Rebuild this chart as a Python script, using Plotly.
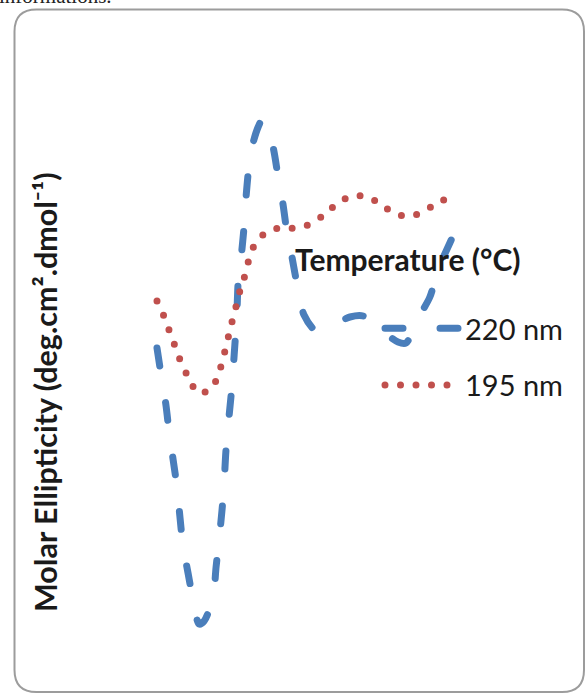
import plotly.graph_objects as go

# ---- data ----
temp_220 = [20.0, 20.9, 22.1, 22.8, 23.8, 24.7, 25.4, 26.1, 27.3, 28.5, 29.9, 31.1,
            33.2, 33.9, 34.6, 35.3, 35.8, 36.2, 36.7, 37.4, 37.9, 38.4, 38.8, 39.1,
            39.8, 40.5, 40.9, 41.6, 42.6, 43.8, 44.7, 45.4, 47.3, 48.5, 49.6, 50.6,
            51.8, 53.2, 54.6, 57.2, 60.0, 65.4, 68.5, 71.8, 76.7, 78.6, 81.2, 84.2,
            86.1, 88.9, 90.1]
ellip_220 = [-2400, -3650, -5250, -6500, -8000, -9350, -10850, -12250, -13650, -15000, -16200, -16050,
             -14850, -13350, -12000, -10500, -9150, -7600, -6350, -4850, -3500, -2000, -650, 900,
             2150, 3700, 5000, 6600, 7850, 8650, 9000, 8900, 7650, 6150, 4850, 3350,
             2100, 500, -750, -1500, -1400, -850, -800, -1350, -2100, -2150, -1000, 150,
             1500, 2850, 3400]

temp_195 = [20.0, 21.6, 23.1, 24.5, 25.9, 27.5, 29.6, 32.7, 34.4, 35.5, 36.5, 37.4,
            38.4, 39.3, 40.5, 41.4, 42.8, 45.2, 48.7, 52.5, 56.2, 59.5, 62.6, 65.9,
            69.6, 72.9, 76.2, 80.0, 83.5, 87.1, 90.1]
ellip_195 = [-50, -800, -1650, -2450, -3250, -3900, -4650, -4450, -3750, -2950, -2100, -1300,
             -500, 300, 1100, 1850, 2700, 3300, 3600, 3600, 3800, 4300, 4850, 5200,
             5150, 4750, 4300, 4200, 4550, 4950, 5400]

series_names = ["220 nm", "195 nm"]
y_title = "Molar Ellipticity (deg.cm\u00b2.dmol\u207b\u00b9)"
legend_title = "Temperature (\u00b0C)"
clipped_text = "informations."

BLUE = "#4A7EBB"
RED = "#C0504D"
W, H = 585, 696

fig = go.Figure()
fig.add_trace(go.Scatter(
    x=temp_220, y=ellip_220, name=series_names[0], mode="lines",
    line=dict(color=BLUE, width=7, dash="18px,37px", shape="spline", smoothing=0.8),
    legendgroup="a",
))
fig.add_trace(go.Scatter(
    x=temp_195, y=ellip_195, name=series_names[1], mode="lines",
    line=dict(color=RED, width=7, dash="0px,15.5px", shape="spline", smoothing=0.8),
    legendgroup="b",
))

def px(x):
    return x / W

def py(y):
    return 1 - y / H

# rounded frame
x0, x1, y0, y1, r = 14.5, 584, 9.5, 692, 22
path = (f"M {px(x0+r)},{py(y0)} L {px(x1-r)},{py(y0)} Q {px(x1)},{py(y0)} {px(x1)},{py(y0+r)} "
        f"L {px(x1)},{py(y1-r)} Q {px(x1)},{py(y1)} {px(x1-r)},{py(y1)} "
        f"L {px(x0+r)},{py(y1)} Q {px(x0)},{py(y1)} {px(x0)},{py(y1-r)} "
        f"L {px(x0)},{py(y0+r)} Q {px(x0)},{py(y0)} {px(x0+r)},{py(y0)} Z")
fig.add_shape(type="path", path=path, xref="paper", yref="paper",
              line=dict(color="#9C9C9C", width=2), fillcolor="rgba(0,0,0,0)", layer="below")

fig.add_annotation(text=y_title, x=px(45), y=py(392), xref="paper", yref="paper",
                   textangle=-90, showarrow=False, xanchor="center", yanchor="middle",
                   font=dict(family="Lato", size=30.5, color="#1a1a1a", weight="bold"))
fig.add_annotation(text=legend_title, x=px(293), y=py(259), xref="paper", yref="paper",
                   showarrow=False, xanchor="left", yanchor="middle",
                   font=dict(family="Lato", size=30, color="#1a1a1a", weight="bold"))
fig.add_annotation(text=clipped_text, x=px(-3), y=py(10), xref="paper", yref="paper",
                   showarrow=False, xanchor="left", yanchor="bottom",
                   font=dict(family="Liberation Serif", size=21, color="#222"))

# axis ranges so that the data sits where the reference draws it
xr = [20 - 157 / 4.25, 20 + (W - 157) / 4.25]
yr = [(300 - H) * 50, 300 * 50]

fig.update_layout(
    width=W, height=H,
    margin=dict(l=0, r=0, t=0, b=0),
    paper_bgcolor="white", plot_bgcolor="white",
    xaxis=dict(visible=False, range=xr, domain=[0, 1], fixedrange=True),
    yaxis=dict(visible=False, range=yr, domain=[0, 1], fixedrange=True),
    showlegend=True,
    legend=dict(x=px(380), y=py(303), xanchor="left", yanchor="top",
                font=dict(family="Lato", size=29, color="#1a1a1a"),
                itemwidth=75, tracegroupgap=16, bgcolor="rgba(0,0,0,0)",
                traceorder="grouped"),
)

post = """
var s=document.createElement('style');
s.innerHTML='.js-line{stroke-linecap:round !important;}';
document.head.appendChild(s);
"""
fig.write_html("out.html", post_script=post, config={"displayModeBar": False})
